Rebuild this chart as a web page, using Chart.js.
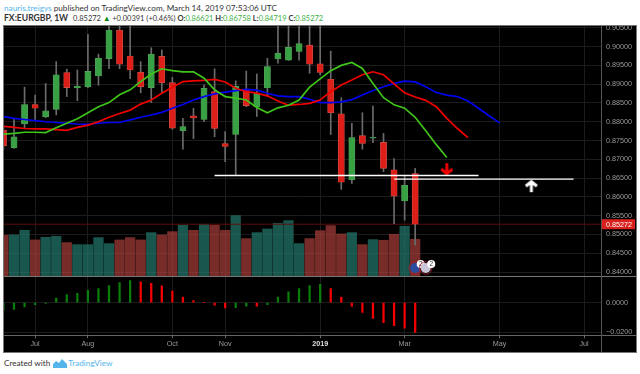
<!DOCTYPE html>
<html>
<head>
<meta charset="utf-8">
<title>EURGBP 1W</title>
<script src="https://cdn.jsdelivr.net/npm/chart.js@4"></script>
<style>
    html, body { margin: 0; padding: 0; background: #fff; overflow: hidden; }
    body { width: 640px; height: 374px; position: relative; font-family: Lato, sans-serif; color: #333; }
    .line { position: absolute; left: 4px; white-space: nowrap; }
    #byline { top: 2px; font-size: 8.2px; line-height: 12px; }
    #byline a { color: #54b5ea; }
    #quote { top: 12px; font-size: 7.5px; line-height: 12px; }
    #quote b { font-weight: 700; }
    #quote b.name { font-size: 8.6px; margin-right: 3px; }
    #quote i { font-style: normal; color: #3cb043; }
    #quote .up { color: #0a8a0a; }
    #footer { top: 357px; font-size: 8.2px; line-height: 12px; }
    #footer span { color: #54b5ea; }
    #footer svg { vertical-align: -2px; margin: 0 1px 0 1px; }
    #pane { position: absolute; left: 3px; top: 25px; width: 632px; height: 326px; border: 1px solid #777; background: #000; }
    canvas { position: absolute; }
    #chart-price { left: 4px; top: 26px; }
    #chart-macd { left: 4px; top: 277px; }
    .rule { position: absolute; background: #555; }
</style>
</head>
<body>
<div id="byline" class="line"><a>nauris.treigys</a> published on TradingView.com, March 14, 2019 07:53:06 UTC</div>
<div id="quote" class="line"><b class="name">FX:EURGBP, 1W</b> 0.85272 <span class="up">▲</span> +0.00391 (+0.46%) <b>O:</b><i>0.86621</i> <b>H:</b><i>0.86758</i> <b>L:</b><i>0.84719</i> <b>C:</b><i>0.85272</i></div>
<div id="pane"></div>
<canvas id="chart-price" width="632" height="251"></canvas>
<canvas id="chart-macd" width="632" height="75"></canvas>
<div class="rule" style="left:4px;top:276px;width:632px;height:1px;background:#777"></div>
<div class="rule" style="left:4px;top:335px;width:632px;height:1px;background:#666"></div>
<div class="rule" style="left:601px;top:26px;width:1px;height:326px"></div>
<div id="footer" class="line">Created with <svg width="14" height="9" viewBox="0 0 14 9"><path d="M0 9V5l3-3 3 2 3-4 5 5v4z" fill="#54b5ea"/></svg><span>TradingView</span></div>

<script>
/* week numbers: bar 0 is the second visible candle, the left one is cut by the pane */
const firstWeek = -1;
const candleOpen = [0.8778, 0.8731, 0.8794, 0.8846, 0.8813, 0.8833, 0.8931, 0.8890, 0.8893, 0.8922, 0.8968, 0.9044, 0.8975, 0.8932, 0.8891, 0.8974, 0.8904, 0.8776, 0.8816, 0.8806, 0.8880, 0.8742, 0.8766, 0.8885, 0.8840, 0.8890, 0.8967, 0.8964, 0.8987, 0.9004, 0.8954, 0.8913, 0.8821, 0.8646, 0.8763, 0.8756, 0.8745, 0.8672, 0.8589, 0.86621];
const candleClose = [0.8736, 0.8760, 0.8846, 0.8836, 0.8829, 0.8925, 0.8891, 0.8895, 0.8934, 0.8969, 0.9044, 0.8953, 0.8938, 0.8893, 0.8980, 0.8904, 0.8783, 0.8787, 0.8810, 0.8889, 0.8782, 0.8734, 0.8894, 0.8843, 0.8876, 0.8947, 0.8982, 0.8998, 0.9008, 0.8953, 0.8931, 0.8824, 0.8639, 0.8758, 0.8742, 0.8759, 0.8676, 0.8602, 0.8631, 0.85272];
const candleHigh = [0.8790, 0.8809, 0.8892, 0.8871, 0.8902, 0.8960, 0.8940, 0.8938, 0.9033, 0.8980, 0.9065, 0.9060, 0.9060, 0.8960, 0.8997, 0.8991, 0.8918, 0.8809, 0.8836, 0.8898, 0.8941, 0.8774, 0.8909, 0.8935, 0.8927, 0.8969, 0.9060, 0.9060, 0.9060, 0.9060, 0.9060, 0.8988, 0.8864, 0.8796, 0.8824, 0.8842, 0.8769, 0.8702, 0.8655, 0.86758];
const candleLow = [0.8725, 0.8729, 0.8782, 0.8803, 0.8811, 0.8818, 0.8867, 0.8856, 0.8891, 0.8897, 0.8941, 0.8941, 0.8915, 0.8877, 0.8851, 0.8877, 0.8780, 0.8727, 0.8755, 0.8800, 0.8760, 0.8694, 0.8658, 0.8840, 0.8814, 0.8867, 0.8956, 0.8963, 0.8964, 0.8929, 0.8925, 0.8766, 0.8620, 0.8636, 0.8727, 0.8744, 0.8667, 0.8529, 0.8538, 0.84719];
const volume = [125, 126, 140, 111, 119, 122, 103, 97, 97, 118, 100, 111, 118, 111, 133, 126, 136, 155, 140, 158, 155, 140, 184, 115, 133, 144, 161, 169, 100, 115, 139, 154, 129, 133, 97, 112, 110, 128, 152, 113];
const macdHist = [-0.0050, -0.0045, -0.0029, -0.0014, -0.0005, 0.0032, 0.0054, 0.0063, 0.0083, 0.0095, 0.0115, 0.0135, 0.0149, 0.0140, 0.0131, 0.0113, 0.0079, 0.0038, 0.0014, 0, -0.0016, -0.0036, -0.0034, -0.0023, -0.0023, -0.0014, 0.0038, 0.0074, 0.0095, 0.0115, 0.0124, 0.0095, 0.0038, -0.0023, -0.0065, -0.0106, -0.0135, -0.0155, -0.0171, -0.0200];

const lipsGreen = [0.8767, 0.8769, 0.8772, 0.8772, 0.8771, 0.8784, 0.8796, 0.8808, 0.8824, 0.8840, 0.8851, 0.8872, 0.8885, 0.8907, 0.8927, 0.8941, 0.8936, 0.8933, 0.8933, 0.8916, 0.8885, 0.8867, 0.8863, 0.8858, 0.8838, 0.8824, 0.8837, 0.8844, 0.8858, 0.8892, 0.8914, 0.8936, 0.8950, 0.8958, 0.8942, 0.8902, 0.8864, 0.8845, 0.8836, 0.8812, 0.8776, 0.8739, 0.8705];
const teethRed = [0.8788, 0.8785, 0.8782, 0.8781, 0.8781, 0.8779, 0.8777, 0.8785, 0.8791, 0.8800, 0.8812, 0.8822, 0.8831, 0.8847, 0.8858, 0.8876, 0.8892, 0.8907, 0.8909, 0.8910, 0.8913, 0.8906, 0.8889, 0.8880, 0.8876, 0.8869, 0.8855, 0.8844, 0.8846, 0.8849, 0.8858, 0.8880, 0.8898, 0.8911, 0.8925, 0.8933, 0.8925, 0.8901, 0.8877, 0.8866, 0.8857, 0.8840, 0.8809, 0.8782, 0.8758];
const jawBlue = [0.8814, 0.8809, 0.8806, 0.8803, 0.8800, 0.8798, 0.8796, 0.8794, 0.8793, 0.8796, 0.8798, 0.8798, 0.8805, 0.8812, 0.8818, 0.8825, 0.8836, 0.8846, 0.8858, 0.8867, 0.8874, 0.8879, 0.8883, 0.8886, 0.8884, 0.8876, 0.8869, 0.8867, 0.8867, 0.8860, 0.8851, 0.8851, 0.8853, 0.8859, 0.8871, 0.8883, 0.8893, 0.8902, 0.8908, 0.8906, 0.8893, 0.8878, 0.8871, 0.8867, 0.8855, 0.8836, 0.8816, 0.8797];

const supportWeeks = [19, 44];
const supportPrice = 0.8657;
const resistWeeks = [36, 53];
const resistPrice = 0.86475;
const downArrow = { week: 41, price: 0.86738 };
const upArrow = { week: 49, price: 0.86285 };
const lastPrice = 0.85272;

const priceTicks = [0.84, 0.845, 0.85, 0.855, 0.86, 0.865, 0.87, 0.875, 0.88, 0.885, 0.89, 0.895, 0.9, 0.905];
const macdTicks = [-0.02, 0];
const timeTicks = [2, 7, 15, 20, 29, 37, 46, 54];
const timeLabels = ['Jul', 'Aug', 'Oct', 'Nov', '2019', 'Mar', 'May', 'Jul'];
const eventWeeks = [38, 39];

/* same horizontal window on both panes */
const weekMin = -0.947;
const weekMax = 55.6;

const GRID = '#1c1c1c';
const TEXT = '#9a9a9a';
const FONT = '"Liberation Sans", Arial, sans-serif';

const weeks = candleOpen.map((_, i) => i + firstWeek);
const isUp = i => candleClose[i] >= candleOpen[i];
const series = arr => arr.map((y, i) => ({ x: i + firstWeek, y }));

/* chart.js reserves room for half a label at the ends, the panes must fill the canvas */
function noPadding(s) {
    s.paddingLeft = s.paddingRight = s.paddingTop = s.paddingBottom = 0;
}

function xAxis(extra) {
    return Object.assign({
        type: 'linear', min: weekMin, max: weekMax, offset: false,
        afterBuildTicks: s => { s.ticks = timeTicks.map(value => ({ value })); },
        grid: { color: GRID, offset: false, drawTicks: false },
        border: { display: false },
        ticks: { display: false },
        afterFit: s => { s.height = 0; noPadding(s); },
    }, extra);
}

function yAxis(values, min, max, decimals) {
    return {
        position: 'right', min, max,
        afterBuildTicks: s => { s.ticks = values.map(value => ({ value })); },
        afterFit: s => { s.width = 35; noPadding(s); },
        grid: { color: GRID, drawTicks: false },
        border: { display: false },
        ticks: {
            color: TEXT, padding: 5, autoSkip: false, font: { family: FONT, size: 7.2 },
            callback: v => v.toFixed(decimals).replace('-', '\u2212'),
        },
    };
}

function arrowImage(color, down) {
    const c = document.createElement('canvas');
    c.width = 16; c.height = 14;
    const g = c.getContext('2d');
    g.translate(8, 7);
    if (!down) g.scale(1, -1);
    g.strokeStyle = color;
    g.lineWidth = 3;
    g.beginPath();
    g.moveTo(0, -6); g.lineTo(0, 4);
    g.moveTo(-5.5, 0); g.lineTo(0, 4.5); g.lineTo(5.5, 0);
    g.stroke();
    return c;
}

/* last price tag and the calendar event badges */
const overlayPlugin = {
    id: 'overlay',
    afterDraw(chart) {
        const { ctx, scales } = chart;
        const y = scales.y.getPixelForValue(lastPrice);
        ctx.save();
        ctx.fillStyle = '#d9201c';
        ctx.fillRect(scales.y.left, y - 5, 34, 10);
        ctx.fillStyle = '#fff';
        ctx.font = `7.2px ${FONT}`;
        ctx.textBaseline = 'middle';
        ctx.fillText(lastPrice.toFixed(5), scales.y.left + 5, y + 0.5);

        const fills = ['#2b4c9c', '#c9c4d6'];
        eventWeeks.forEach((w, i) => {
            const cx = scales.x.getPixelForValue(w);
            const cy = 242;
            ctx.beginPath();
            ctx.arc(cx, cy, 6.2, 0, Math.PI * 2);
            ctx.strokeStyle = '#b02033';
            ctx.lineWidth = 0.8;
            ctx.stroke();
            ctx.beginPath();
            ctx.arc(cx, cy, 5, 0, Math.PI * 2);
            ctx.fillStyle = fills[i];
            ctx.fill();
            ctx.beginPath();
            ctx.arc(cx + 5.5, cy - 4, 4, 0, Math.PI * 2);
            ctx.fillStyle = '#fff';
            ctx.fill();
            ctx.fillStyle = '#333';
            ctx.textAlign = 'center';
            ctx.font = `6.5px ${FONT}`;
            ctx.fillText('2', cx + 5.5, cy - 3.7);
        });
        ctx.restore();
    },
};

function line(data, color, order, width) {
    return { type: 'line', data, borderColor: color, borderWidth: width, pointRadius: 0, tension: 0, order };
}

function renderPrice() {
    new Chart(document.getElementById('chart-price'), {
        type: 'bar',
        plugins: [overlayPlugin],
        data: {
            datasets: [
                line(series(lipsGreen), '#3fc41a', 1, 1.7),
                line(series(teethRed), '#f00000', 2, 1.7),
                line(series(jawBlue), '#0000f0', 3, 1.7),
                line(supportWeeks.map(x => ({ x, y: supportPrice })), '#ffffff', 0, 1.5),
                line(resistWeeks.map(x => ({ x, y: resistPrice })), '#ffffff', 0, 1.2),
                {
                    type: 'scatter', order: 0, pointRadius: 7,
                    data: [{ x: downArrow.week, y: downArrow.price }],
                    pointStyle: arrowImage('#f00000', true),
                },
                {
                    type: 'scatter', order: 0, pointRadius: 7,
                    data: [{ x: upArrow.week, y: upArrow.price }],
                    pointStyle: arrowImage('#ffffff', false),
                },
                {
                    label: 'Candle body', order: 5, grouped: false, barThickness: 6.2,
                    data: weeks.map((x, i) => ({ x, y: [candleOpen[i], candleClose[i]] })),
                    backgroundColor: weeks.map((_, i) => isUp(i) ? '#38a143' : '#dc2019'),
                    borderColor: weeks.map((_, i) => isUp(i) ? '#5a9f5f' : '#d05a50'),
                    borderWidth: 0.6, borderSkipped: false,
                },
                {
                    label: 'Wick', order: 6, grouped: false, barThickness: 1,
                    data: weeks.map((x, i) => ({ x, y: [candleLow[i], candleHigh[i]] })),
                    backgroundColor: '#6b6b6b',
                },
                line([{ x: weekMin, y: lastPrice }, { x: weekMax, y: lastPrice }], '#5c0d0d', 7, 1),
                {
                    label: 'Volume', order: 8, grouped: false, barThickness: 9.6, yAxisID: 'yVol',
                    data: weeks.map((x, i) => ({ x, y: volume[i] })),
                    backgroundColor: weeks.map((_, i) => isUp(i) ? 'rgba(34,120,108,0.72)' : 'rgba(170,62,60,0.7)'),
                },
            ],
        },
        options: {
            responsive: false, animation: false, maintainAspectRatio: false,
            events: [],
            layout: { padding: 0, autoPadding: false },
            plugins: { legend: { display: false }, tooltip: { enabled: false } },
            scales: {
                x: xAxis(),
                y: yAxis(priceTicks, 0.83867, 0.90549, 5),
                yVol: {
                    display: false, position: 'left', min: 0, max: 752, grid: { display: false },
                    afterFit: s => { s.width = 0; noPadding(s); },
                },
            },
        },
    });
}

function renderMacd() {
    new Chart(document.getElementById('chart-macd'), {
        type: 'bar',
        data: {
            datasets: [{
                label: 'MACD histogram', barThickness: 1.6,
                data: series(macdHist),
                backgroundColor: macdHist.map((v, i) => (i === 0 || v > macdHist[i - 1]) ? '#0a7d0a' : '#f40000'),
            }],
        },
        options: {
            responsive: false, animation: false, maintainAspectRatio: false,
            events: [],
            layout: { padding: 0, autoPadding: false },
            plugins: { legend: { display: false }, tooltip: { enabled: false } },
            scales: {
                x: xAxis({
                    afterFit: s => { s.height = 16.7; noPadding(s); },
                    grid: { color: GRID, offset: false, drawTicks: true, tickLength: 3, tickColor: '#666' },
                    ticks: {
                        display: true, autoSkip: false, maxRotation: 0, padding: 1.5,
                        color: c => timeLabels[c.index] === '2019' ? '#e0e0e0' : TEXT,
                        font: c => ({ family: FONT, size: 7.2, weight: timeLabels[c.index] === '2019' ? 'bold' : 'normal' }),
                        callback: (v, i) => timeLabels[i],
                    },
                }),
                y: yAxis(macdTicks, -0.02198, 0.01733, 4),
            },
        },
    });
}

renderPrice();
renderMacd();
</script>
</body>
</html>
